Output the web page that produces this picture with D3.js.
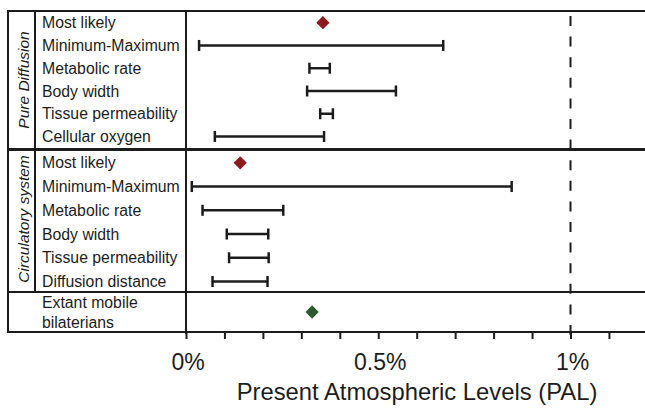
<!DOCTYPE html>
<html>
<head>
<meta charset="utf-8">
<script src="https://cdn.jsdelivr.net/npm/d3@7"></script>
<style>
  body { margin: 0; background: #fff; }
  svg { display: block; font-family: "Liberation Sans", Arial, sans-serif; }
</style>
</head>
<body>
<svg id="chart"></svg>
<script>
// data, values in % PAL
var diffusionRows = ["Most likely", "Minimum-Maximum", "Metabolic rate", "Body width", "Tissue permeability", "Cellular oxygen"];
var diffusionLikely = 0.356;
var diffusionRanges = [
    [0.034, 0.669],
    [0.321, 0.374],
    [0.315, 0.546],
    [0.349, 0.382],
    [0.075, 0.359]
];

var circulatoryRows = ["Most likely", "Minimum-Maximum", "Metabolic rate", "Body width", "Tissue permeability", "Diffusion distance"];
var circulatoryLikely = 0.141;
var circulatoryRanges = [
    [0.015, 0.847],
    [0.043, 0.253],
    [0.106, 0.214],
    [0.112, 0.215],
    [0.069, 0.212]
];

var extantLabel = ["Extant mobile", "bilaterians"];
var extantValue = 0.328;

var tickValues = [0, 0.1, 0.2, 0.3, 0.4, 0.5, 0.6, 0.7, 0.8, 0.9, 1.0, 1.1];
var tickLabels = [[0, "0%"], [0.5, "0.5%"], [1, "1%"]];
var axisTitle = "Present Atmospheric Levels (PAL)";

var width = 645;
var height = 409;
var ink = "#1c1c1c";
var red = "#8c1a1f";
var green = "#2c5a2c";

var svg = d3.select("#chart")
    .attr("width", width)
    .attr("height", height);

var x = d3.scaleLinear()
    .domain([0, 1])
    .range([186, 570.5]);

var yDiff = d3.scalePoint()
    .domain(diffusionRows)
    .range([22.7, 136.5]);

var yCirc = d3.scalePoint()
    .domain(circulatoryRows)
    .range([162.8, 281.5]);

var yExtant = 312;

// frame
function hline(y, w) {
    svg.append("line")
        .attr("x1", 8).attr("x2", width)
        .attr("y1", y).attr("y2", y)
        .attr("stroke", ink).attr("stroke-width", w);
}
function vline(xp, y1, y2, w) {
    svg.append("line")
        .attr("x1", xp).attr("x2", xp)
        .attr("y1", y1).attr("y2", y2)
        .attr("stroke", ink).attr("stroke-width", w);
}
hline(11, 2);
hline(149.5, 3);
hline(292, 2);
vline(8, 10, 333, 2);
vline(35, 10, 292, 2);
vline(x(0), 10, 334, 2);

// dashed 1% line
svg.append("line")
    .attr("x1", x(1)).attr("x2", x(1))
    .attr("y1", 16).attr("y2", 338)
    .attr("stroke", ink).attr("stroke-width", 2)
    .attr("stroke-dasharray", "10,10.6");

// x axis
var axis = d3.axisBottom(x)
    .tickValues(tickValues)
    .tickSize(7)
    .tickFormat("");
var gAxis = svg.append("g")
    .attr("transform", "translate(0,332)")
    .call(axis);
gAxis.select(".domain").remove();
gAxis.selectAll(".tick line").attr("stroke", ink).attr("stroke-width", 2);
svg.append("line")
    .attr("x1", 8).attr("x2", width)
    .attr("y1", 332).attr("y2", 332)
    .attr("stroke", ink).attr("stroke-width", 2);

svg.selectAll(".ticklabel")
    .data(tickLabels)
    .enter().append("text")
    .attr("class", "ticklabel")
    .attr("x", function (d) { return x(d[0]) + 2; })
    .attr("y", 370)
    .attr("text-anchor", "middle")
    .attr("font-size", 23)
    .attr("fill", ink)
    .text(function (d) { return d[1]; });

svg.append("text")
    .attr("x", 417)
    .attr("y", 400)
    .attr("text-anchor", "middle")
    .attr("font-size", 23.8)
    .attr("fill", ink)
    .text(axisTitle);

// row labels
function rowLabels(rows, y) {
    svg.append("g").selectAll("text")
        .data(rows)
        .enter().append("text")
        .attr("x", 42)
        .attr("y", function (d) { return y(d); })
        .attr("dy", "0.35em")
        .attr("font-size", 15.8)
        .attr("fill", ink)
        .text(function (d) { return d; });
}
rowLabels(diffusionRows, yDiff);
rowLabels(circulatoryRows, yCirc);

svg.append("g").selectAll("text")
    .data(extantLabel)
    .enter().append("text")
    .attr("x", 42)
    .attr("y", function (d, i) { return 302 + i * 20; })
    .attr("dy", "0.35em")
    .attr("font-size", 15.8)
    .attr("fill", ink)
    .text(function (d) { return d; });

// group labels
function groupLabel(txt, cy) {
    svg.append("text")
        .attr("transform", "translate(24," + cy + ") rotate(-90)")
        .attr("text-anchor", "middle")
        .attr("dy", "0.35em")
        .attr("font-size", 15.5)
        .attr("font-style", "italic")
        .attr("fill", ink)
        .text(txt);
}
groupLabel("Pure Diffusion", 80);
groupLabel("Circulatory system", 219);

// error bars
function ranges(data, rows, y) {
    var g = svg.append("g");
    data.forEach(function (r, i) {
        var yy = y(rows[i + 1]);
        g.append("line")
            .attr("x1", x(r[0])).attr("x2", x(r[1]))
            .attr("y1", yy).attr("y2", yy)
            .attr("stroke", ink).attr("stroke-width", 2.5);
        [r[0], r[1]].forEach(function (v) {
            g.append("line")
                .attr("x1", x(v)).attr("x2", x(v))
                .attr("y1", yy - 5.5).attr("y2", yy + 5.5)
                .attr("stroke", ink).attr("stroke-width", 2.5);
        });
    });
}
ranges(diffusionRanges, diffusionRows, yDiff);
ranges(circulatoryRanges, circulatoryRows, yCirc);

// diamonds
var diamond = d3.symbol().type(d3.symbolSquare).size(88);
function marker(v, yy, color) {
    svg.append("path")
        .attr("d", diamond())
        .attr("transform", "translate(" + x(v) + "," + yy + ") rotate(45)")
        .attr("fill", color);
}
marker(diffusionLikely, yDiff(diffusionRows[0]), red);
marker(circulatoryLikely, yCirc(circulatoryRows[0]), red);
marker(extantValue, yExtant, green);
</script>
</body>
</html>
